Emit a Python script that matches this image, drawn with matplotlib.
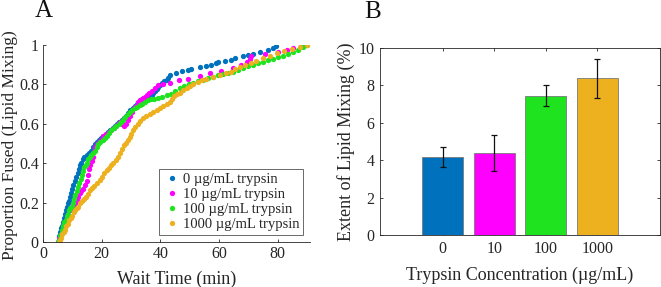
import matplotlib
matplotlib.use("Agg")
import matplotlib.pyplot as plt
import numpy as np

plt.rcParams['font.family'] = ['Liberation Serif', 'DejaVu Serif']
plt.rcParams['mathtext.fontset'] = 'stix'

# ---------------- Panel A data (wait time [min], proportion fused) ----------------
x_0 = [5.0, 5.3, 5.6, 5.9, 6.3, 6.6, 6.9, 7.2, 7.5, 7.9, 8.3, 8.6, 8.9, 9.2, 9.6, 10.0,
       10.4, 10.9, 11.3, 11.8, 12.2, 12.6, 13.0, 13.5, 14.1, 14.9, 15.6, 16.3, 17.0, 17.7,
       18.4, 19.1, 19.9, 20.6, 21.4, 22.2, 23.0, 23.8, 24.5, 25.3, 26.0, 26.8, 27.5, 28.3,
       29.0, 29.8, 30.6, 31.4, 32.2, 33.0, 33.8, 34.6, 35.4, 36.2, 37.0, 37.6, 38.2, 38.7,
       39.3, 40.0, 40.6, 41.3, 42.1, 42.7, 43.2, 45.5, 47.5, 49.5, 50.6, 53.4, 55.7, 57.4,
       59.1, 59.7, 62.0, 64.2, 65.4, 68.2, 69.8, 71.6, 73.9, 76.7, 78.4, 79.5]
y_0 = [0.00, 0.01, 0.03, 0.05, 0.07, 0.08, 0.10, 0.12, 0.14, 0.16, 0.18, 0.20, 0.21, 0.23,
       0.25, 0.27, 0.29, 0.31, 0.33, 0.35, 0.37, 0.39, 0.40, 0.42, 0.43, 0.44, 0.45, 0.46,
       0.48, 0.50, 0.51, 0.52, 0.53, 0.54, 0.55, 0.56, 0.57, 0.58, 0.59, 0.60, 0.61, 0.62,
       0.63, 0.64, 0.655, 0.67, 0.68, 0.69, 0.70, 0.72, 0.725, 0.73, 0.735, 0.74, 0.745,
       0.755, 0.765, 0.775, 0.785, 0.795, 0.805, 0.815, 0.825, 0.835, 0.848, 0.86, 0.866,
       0.873, 0.878, 0.887, 0.893, 0.90, 0.907, 0.915, 0.918, 0.924, 0.936, 0.946, 0.95,
       0.954, 0.966, 0.975, 0.983, 0.995]

x_10 = [5.2, 5.6, 6.0, 6.5, 7.0, 7.5, 8.1, 8.7, 9.3, 9.9, 10.5, 11.0, 11.5, 12.0, 12.5,
        13.0, 13.6, 14.2, 14.9, 15.4, 15.8, 16.1, 16.6, 17.1, 17.5, 17.9, 18.3, 19.0, 19.8,
        20.6, 21.5, 22.4, 23.3, 24.2, 25.0, 25.7, 26.4, 27.0, 27.6, 28.3, 29.0, 29.7, 30.3,
        31.0, 31.7, 32.4, 33.0, 34.0, 34.7, 35.5, 36.3, 37.2, 38.1, 39.3, 41.0, 43.2, 46.5,
        49.5, 53.4, 57.0, 60.8, 64.6, 67.5, 69.5, 70.7, 71.0, 75.5, 80.1, 83.0, 85.2, 88.0,
        89.5]
y_10 = [0.00, 0.02, 0.04, 0.06, 0.08, 0.10, 0.12, 0.14, 0.16, 0.18, 0.19, 0.20, 0.21, 0.23,
        0.25, 0.26, 0.27, 0.29, 0.31, 0.34, 0.37, 0.39, 0.41, 0.43, 0.46, 0.48, 0.50, 0.51,
        0.52, 0.54, 0.55, 0.56, 0.57, 0.58, 0.59, 0.60, 0.61, 0.60, 0.59, 0.60, 0.62, 0.64,
        0.66, 0.68, 0.69, 0.71, 0.72, 0.73, 0.737, 0.745, 0.755, 0.765, 0.78, 0.797, 0.80,
        0.805, 0.82, 0.83, 0.844, 0.856, 0.87, 0.885, 0.90, 0.915, 0.93, 0.946, 0.955, 0.966,
        0.976, 0.986, 0.993, 1.0]

x_100 = [5.0, 5.3, 5.7, 6.1, 6.5, 6.9, 7.3, 7.7, 8.1, 8.5, 8.9, 9.3, 9.8, 10.2, 10.6, 11.0,
         11.5, 11.9, 12.3, 12.8, 13.2, 13.6, 14.0, 14.5, 15.0, 15.4, 15.9, 16.5, 17.1, 17.7,
         18.3, 18.9, 19.6, 20.4, 21.1, 21.7, 22.5, 23.3, 24.2, 25.0, 25.8, 26.6, 27.3, 28.1,
         28.9, 29.7, 30.5, 31.2, 31.9, 32.9, 33.9, 34.9, 35.8, 36.8, 38.0, 39.2, 40.5, 42.1,
         43.5, 45.0, 46.6, 48.2, 49.8, 51.2, 52.8, 54.5, 56.3, 58.0, 59.7, 61.4, 63.1, 64.8,
         66.5, 68.2, 69.9, 71.6, 73.3, 75.0, 76.7, 78.4, 80.1, 81.8, 83.5, 85.2, 86.8, 88.5,
         90.0]
y_100 = [0.00, 0.01, 0.03, 0.04, 0.06, 0.08, 0.10, 0.11, 0.13, 0.14, 0.16, 0.17, 0.18, 0.20,
         0.22, 0.24, 0.26, 0.28, 0.30, 0.32, 0.34, 0.36, 0.38, 0.39, 0.40, 0.42, 0.43, 0.44,
         0.45, 0.46, 0.48, 0.50, 0.51, 0.52, 0.53, 0.54, 0.555, 0.57, 0.58, 0.59, 0.60, 0.61,
         0.62, 0.635, 0.65, 0.66, 0.67, 0.68, 0.687, 0.695, 0.70, 0.71, 0.72, 0.725, 0.728,
         0.73, 0.735, 0.746, 0.752, 0.765, 0.78, 0.79, 0.80, 0.805, 0.815, 0.825, 0.832, 0.84,
         0.846, 0.852, 0.858, 0.865, 0.874, 0.883, 0.892, 0.90, 0.908, 0.915, 0.922, 0.93,
         0.938, 0.946, 0.956, 0.966, 0.977, 0.988, 1.0]

x_1000 = [5.5, 5.8, 6.2, 6.6, 7.1, 7.5, 8.0, 8.5, 9.0, 9.5, 9.9, 10.5, 11.0, 11.6, 12.1,
          12.6, 13.3, 14.0, 14.6, 15.3, 16.0, 16.8, 17.5, 18.3, 19.4, 20.1, 20.9, 21.7, 22.4,
          23.2, 23.9, 24.8, 25.6, 26.3, 27.0, 27.6, 28.3, 29.0, 29.6, 30.1, 30.7, 31.4, 32.3,
          33.2, 34.1, 35.2, 36.4, 37.6, 38.7, 39.8, 41.0, 42.1, 43.2, 44.0, 44.8, 45.7, 46.6,
          47.8, 49.0, 50.1, 51.2, 52.7, 54.2, 55.7, 58.0, 60.2, 62.5, 64.0, 65.5, 67.1, 69.0,
          70.8, 72.7, 75.0, 77.3, 79.6, 82.2, 84.9, 87.5, 90.0]
y_1000 = [0.00, 0.01, 0.02, 0.04, 0.05, 0.06, 0.08, 0.09, 0.11, 0.12, 0.13, 0.15, 0.16,
          0.17, 0.18, 0.196, 0.21, 0.22, 0.23, 0.245, 0.264, 0.275, 0.285, 0.30, 0.315, 0.33,
          0.35, 0.365, 0.375, 0.39, 0.40, 0.415, 0.43, 0.45, 0.47, 0.49, 0.505, 0.518, 0.535,
          0.55, 0.57, 0.585, 0.60, 0.615, 0.63, 0.64, 0.65, 0.66, 0.67, 0.68, 0.69, 0.70, 0.71,
          0.725, 0.74, 0.75, 0.755, 0.77, 0.78, 0.79, 0.80, 0.81, 0.82, 0.83, 0.84, 0.85,
          0.856, 0.865, 0.878, 0.89, 0.90, 0.91, 0.92, 0.935, 0.945, 0.958, 0.97, 0.98, 0.99,
          1.0]

legend_labels = ['0 µg/mL trypsin', '10 µg/mL trypsin', '100 µg/mL trypsin',
                 '1000 µg/mL trypsin']

# ---------------- Panel B data ----------------
conc_labels = ['0', '10', '100', '1000']
extent = [4.17, 4.38, 7.44, 8.36]
extent_err = [0.55, 0.98, 0.56, 1.04]

colors = ['#0072BD', '#FF00FF', '#1EE31E', '#EDB120']
axcol = '#262626'

fig = plt.figure(figsize=(6.61, 2.87), dpi=100)

# ---------------- Panel A ----------------
axA = fig.add_axes([0.065, 0.157, 0.404, 0.686])
series = [(x_0, y_0), (x_10, y_10), (x_100, y_100), (x_1000, y_1000)]
for (xs, ys), c, lab in zip(series, colors, legend_labels):
    axA.plot(xs, ys, linestyle='none', marker='o', markersize=3.8,
             markeredgewidth=0, color=c, label=lab)
axA.set_xlim(0, 91)
axA.set_ylim(0, 1)
axA.set_xticks([0, 20, 40, 60, 80])
axA.set_yticks([0, 0.2, 0.4, 0.6, 0.8, 1.0])
axA.set_yticklabels(['0', '0.2', '0.4', '0.6', '0.8', '1'])
axA.spines['top'].set_visible(False)
axA.spines['right'].set_visible(False)
for s in ['left', 'bottom']:
    axA.spines[s].set_color(axcol)
    axA.spines[s].set_linewidth(0.6)
axA.tick_params(direction='in', length=2.5, width=0.6, color=axcol,
                labelsize=11.5, labelcolor=axcol, pad=3)
axA.set_xlabel('Wait Time (min)', fontsize=13, color=axcol)
axA.set_ylabel('Proportion Fused (Lipid Mixing)', fontsize=12.5, color=axcol)
axA.xaxis.set_label_coords(0.5, -0.145)
axA.yaxis.set_label_coords(-0.095, 0.49)
leg = axA.legend(loc='lower right', fontsize=10.5, frameon=True, fancybox=False,
                 edgecolor=axcol, borderpad=0.3, labelspacing=0.12,
                 handletextpad=0.1, handlelength=1.2, borderaxespad=0.45,
                 markerscale=1.0)
leg.get_frame().set_linewidth(0.6)
for t in leg.get_texts():
    t.set_color(axcol)
fig.text(0.066, 0.962, 'A', fontsize=18, ha='center', va='center', color='#111111')

# ---------------- Panel B ----------------
axB = fig.add_axes([0.575, 0.181, 0.4235, 0.653])
pos = np.arange(1, len(conc_labels) + 1)
axB.bar(pos, extent, width=0.8, color=colors, edgecolor='#7a7a7a', linewidth=0.6,
        zorder=2)
axB.errorbar(pos, extent, yerr=extent_err, fmt='none', ecolor='#111111',
             elinewidth=0.9, capsize=2.5, capthick=0.9, zorder=3)
axB.set_xlim(-0.22, 5.22)
axB.set_ylim(0, 10)
axB.set_xticks(pos)
axB.set_xticklabels(conc_labels)
axB.set_yticks([0, 2, 4, 6, 8, 10])
for s in axB.spines.values():
    s.set_color(axcol)
    s.set_linewidth(0.6)
axB.tick_params(direction='in', length=2.5, width=0.6, color=axcol,
                labelsize=11.5, labelcolor=axcol, top=True, right=True, pad=4)
axB.set_xlabel('Trypsin Concentration (µg/mL)', fontsize=13, color=axcol)
axB.set_ylabel('Extent of Lipid Mixing (%)', fontsize=13, color=axcol)
axB.xaxis.set_label_coords(0.5, -0.17)
axB.yaxis.set_label_coords(-0.088, 0.5)
fig.text(0.564, 0.958, 'B', fontsize=18, ha='center', va='center', color='#111111')

fig.savefig('out.png', dpi=100)
